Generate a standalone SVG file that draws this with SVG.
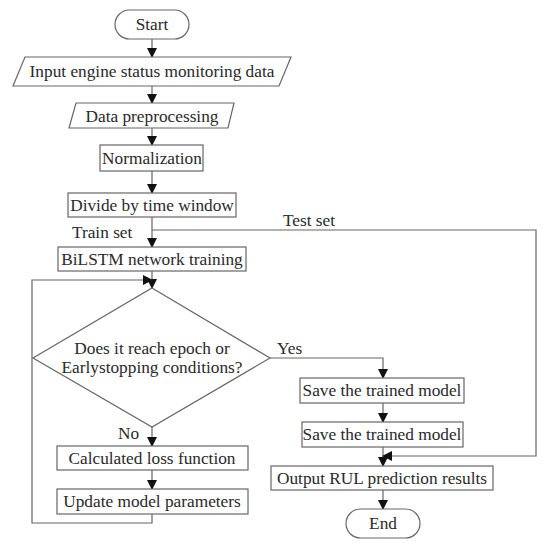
<svg xmlns="http://www.w3.org/2000/svg" width="550" height="549" viewBox="0 0 550 549">
<style>
.s{fill:#fff;stroke:#666;stroke-width:1.2}
.c{fill:none;stroke:#666;stroke-width:1.2}
text{font-family:"Liberation Serif","Times New Roman",serif;font-size:17.3px;fill:#2a2a2a;text-anchor:middle}
.l{text-anchor:start}
</style>
<defs>
<marker id="a" markerWidth="10" markerHeight="10" refX="9" refY="5" orient="auto" markerUnits="userSpaceOnUse">
<path d="M0,0 L10,5 L0,10 Z" fill="#111"/>
</marker>
</defs>
<rect width="550" height="549" fill="#fff"/>
<g id="connectors">
<line class="c" x1="152" y1="39" x2="152" y2="57" marker-end="url(#a)"/>
<line class="c" x1="152" y1="86" x2="152" y2="103" marker-end="url(#a)"/>
<line class="c" x1="152" y1="128" x2="152" y2="145" marker-end="url(#a)"/>
<line class="c" x1="152" y1="171" x2="152" y2="193" marker-end="url(#a)"/>
<line class="c" x1="152" y1="217" x2="152" y2="247" marker-end="url(#a)"/>
<line class="c" x1="152" y1="271" x2="152" y2="288" marker-end="url(#a)"/>
<line class="c" x1="152" y1="427" x2="152" y2="446" marker-end="url(#a)"/>
<line class="c" x1="152" y1="470" x2="152" y2="489" marker-end="url(#a)"/>
<polyline class="c" points="152,514 152,523 32,523 32,280 152,280" marker-end="url(#a)"/>
<polyline class="c" points="270,358 383,358 383,378" marker-end="url(#a)"/>
<line class="c" x1="383" y1="403" x2="383" y2="422" marker-end="url(#a)"/>
<line class="c" x1="383" y1="447" x2="383" y2="466" marker-end="url(#a)"/>
<polyline class="c" points="152,230 536,230 536,456 383,456" marker-end="url(#a)"/>
<line class="c" x1="383" y1="490" x2="383" y2="509" marker-end="url(#a)"/>
<text class="l" x="72" y="238">Train set</text>
<text class="l" x="283" y="226">Test set</text>
<text class="l" x="277" y="354">Yes</text>
<text class="l" x="118" y="439">No</text>
</g>
<g id="start">
<rect class="s" x="115" y="10" width="74" height="29" rx="14.5"/>
<text x="152" y="30">Start</text>
</g>
<g id="input">
<polygon class="s" points="25,57 291,57 279,86 13,86"/>
<text x="152" y="77">Input engine status monitoring data</text>
</g>
<g id="preprocess">
<polygon class="s" points="76,103 234,103 228,128 69,128"/>
<text x="152" y="122">Data preprocessing</text>
</g>
<g id="normalization">
<rect class="s" x="100" y="145" width="103" height="26"/>
<text x="152" y="164">Normalization</text>
</g>
<g id="divide">
<rect class="s" x="68" y="193" width="168" height="24"/>
<text x="152" y="211">Divide by time window</text>
</g>
<g id="bilstm">
<rect class="s" x="58" y="247" width="188" height="24"/>
<text x="152" y="265">BiLSTM network training</text>
</g>
<g id="decision">
<polygon class="s" points="152,288 270,358 152,427 33,358"/>
<text x="152" y="354">Does it reach epoch or</text>
<text x="152" y="373">Earlystopping conditions?</text>
</g>
<g id="loss">
<rect class="s" x="57" y="446" width="191" height="24"/>
<text x="152" y="464">Calculated loss function</text>
</g>
<g id="update">
<rect class="s" x="57" y="489" width="191" height="25"/>
<text x="152" y="507">Update model parameters</text>
</g>
<g id="save1">
<rect class="s" x="300" y="378" width="164" height="25"/>
<text x="382" y="396">Save the trained model</text>
</g>
<g id="save2">
<rect class="s" x="302" y="422" width="161" height="25"/>
<text x="382" y="440">Save the trained model</text>
</g>
<g id="output">
<rect class="s" x="271" y="466" width="222" height="24"/>
<text x="382" y="484">Output RUL prediction results</text>
</g>
<g id="end">
<rect class="s" x="346" y="509" width="74" height="29" rx="14.5"/>
<text x="383" y="529">End</text>
</g>
</svg>
